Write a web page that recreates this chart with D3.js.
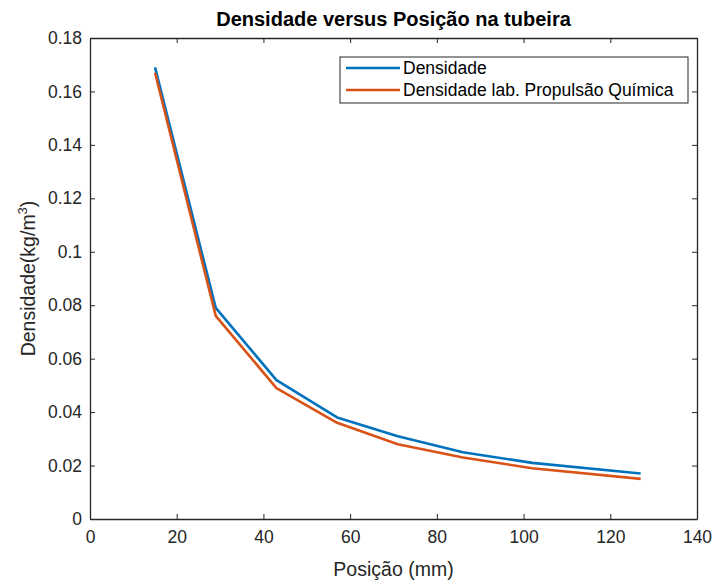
<!DOCTYPE html>
<html><head><meta charset="utf-8">
<script src="https://cdn.jsdelivr.net/npm/d3@7"></script>
<style>body{margin:0;background:#fff}svg text{font-family:"Liberation Sans",Arial,sans-serif;}</style>
</head><body><svg id="c" width="714" height="584"></svg>
<script>
const posicao = [15, 29, 43, 57, 71, 86, 102, 127];
const densidade = [0.169, 0.079, 0.052, 0.038, 0.031, 0.025, 0.021, 0.017];
const densidadeLab = [0.167, 0.076, 0.049, 0.036, 0.028, 0.023, 0.019, 0.015];
const xTicks = [0, 20, 40, 60, 80, 100, 120, 140];
const yTicks = [0, 0.02, 0.04, 0.06, 0.08, 0.1, 0.12, 0.14, 0.16, 0.18];
const seriesNames = ["Densidade", "Densidade lab. Propulsão Química"];
const colors = ["#0072BD", "#D95319"];

const L = 90, R = 697, T = 38, B = 519;
const svg = d3.select("#c");
const x = d3.scaleLinear().domain([0, 140]).range([L, R]);
const y = d3.scaleLinear().domain([0, 0.18]).range([B, T]);
const axisCol = "#262626";

svg.append("rect").attr("x", L).attr("y", T).attr("width", R - L).attr("height", B - T).attr("fill", "#fff");

const fmtY = d => d === 0 ? "0" : String(+d.toFixed(2));
const gx = svg.append("g").attr("transform", `translate(0,${B})`)
  .call(d3.axisBottom(x).tickValues(xTicks).tickSizeInner(-5).tickSizeOuter(0).tickPadding(12));
const gy = svg.append("g").attr("transform", `translate(${L},0)`)
  .call(d3.axisLeft(y).tickValues(yTicks).tickFormat(fmtY).tickSizeInner(-5).tickSizeOuter(0).tickPadding(8));
const gxt = svg.append("g").attr("transform", `translate(0,${T})`)
  .call(d3.axisTop(x).tickValues(xTicks).tickFormat("").tickSizeInner(-5).tickSizeOuter(0));
const gyr = svg.append("g").attr("transform", `translate(${R},0)`)
  .call(d3.axisRight(y).tickValues(yTicks).tickFormat("").tickSizeInner(-5).tickSizeOuter(0));
[gx, gy, gxt, gyr].forEach(g => {
  g.selectAll("path").attr("stroke", axisCol).attr("stroke-width", 1.3);
  g.selectAll("line").attr("stroke", axisCol).attr("stroke-width", 1);
  g.selectAll("text").attr("fill", axisCol).style("font-size", "17.5px");
});

const line = d3.line().x((d, i) => x(posicao[i])).y(d => y(d));
[densidade, densidadeLab].forEach((s, k) => {
  svg.append("path").datum(s).attr("d", line).attr("fill", "none")
    .attr("stroke", colors[k]).attr("stroke-width", 2.6).attr("stroke-linejoin", "round");
});

svg.append("text").attr("x", (L + R) / 2).attr("y", 26).attr("text-anchor", "middle")
  .style("font-size", "20px").style("font-weight", "bold").attr("fill", "#000")
  .text("Densidade versus Posição na tubeira");
svg.append("text").attr("x", (L + R) / 2).attr("y", 576).attr("text-anchor", "middle")
  .style("font-size", "19.5px").attr("fill", axisCol).text("Posição (mm)");
const yl = svg.append("text").attr("transform", `translate(35,${(T + B) / 2}) rotate(-90)`)
  .attr("text-anchor", "middle").style("font-size", "19.5px").attr("fill", axisCol);
yl.append("tspan").text("Densidade(kg/m");
yl.append("tspan").attr("dy", -8).style("font-size", "13px").text("3");
yl.append("tspan").attr("dy", 8).text(")");

const lg = svg.append("g");
lg.append("rect").attr("x", 340).attr("y", 57).attr("width", 348).attr("height", 46)
  .attr("fill", "#fff").attr("stroke", axisCol).attr("stroke-width", 1);
seriesNames.forEach((n, k) => {
  const yy = 68 + k * 22;
  lg.append("line").attr("x1", 346).attr("x2", 400).attr("y1", yy).attr("y2", yy)
    .attr("stroke", colors[k]).attr("stroke-width", 2.6);
  lg.append("text").attr("x", 403).attr("y", yy + 6).style("font-size", "17.5px").attr("fill", "#000").text(n);
});
</script></body></html>
